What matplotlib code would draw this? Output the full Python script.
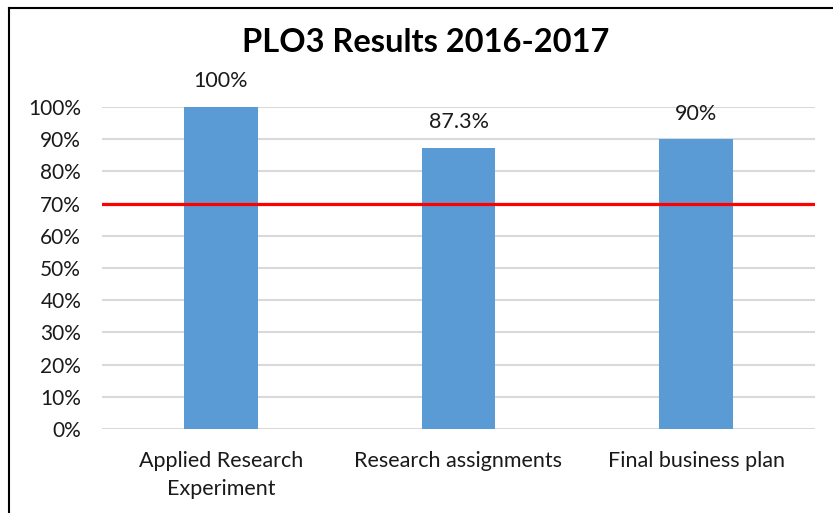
import matplotlib.pyplot as plt
from matplotlib.lines import Line2D

categories = ["Applied Research\nExperiment", "Research assignments", "Final business plan"]
values = [1.00, 0.873, 0.90]
value_labels = ["100%", "87.3%", "90%"]
target = 0.70
yticks = [i / 10 for i in range(11)]
ytick_labels = [f"{i * 10}%" for i in range(11)]

plt.rcParams["font.family"] = ["Lato", "DejaVu Sans"]

fig = plt.figure(figsize=(8.33, 5.13), dpi=100)
ax = fig.add_axes([102 / 833, 1 - 429 / 513, 713 / 833, 322 / 513])

x = range(len(categories))
ax.bar(x, values, width=0.31, color="#5B9BD5", zorder=2)
ax.axhline(target, color="#FF0000", linewidth=2.3, zorder=3)

for xi, v, lab in zip(x, values, value_labels):
    ax.annotate(lab, (xi, v), xytext=(0, 18.5), textcoords="offset points",
                ha="center", va="center", fontsize=15.5, color="#1a1a1a")

ax.set_xlim(-0.5, 2.5)
ax.set_ylim(0, 1)
ax.set_yticks(yticks)
ax.set_yticklabels(ytick_labels)
ax.set_xticks(list(x))
ax.set_xticklabels(categories, linespacing=1.5)
ax.tick_params(axis="y", length=0, pad=15, labelsize=15, labelcolor="#1a1a1a")
ax.tick_params(axis="x", length=0, pad=16, labelsize=15.5, labelcolor="#1a1a1a")
ax.grid(axis="y", color="#D9D9D9", linewidth=1.5, zorder=0)
for s in ax.spines.values():
    s.set_visible(False)

fig.text(426 / 833, 1 - 42 / 513, "PLO3 Results 2016-2017", ha="center", va="center",
         fontsize=23.5, fontweight="bold", color="#000000")

# chart border (left and top edges visible)
fig.add_artist(Line2D([9 / 833, 9 / 833], [0, 1 - 8 / 513], transform=fig.transFigure,
                      color="#000000", linewidth=1.5))
fig.add_artist(Line2D([9 / 833, 1], [1 - 8 / 513, 1 - 8 / 513], transform=fig.transFigure,
                      color="#000000", linewidth=1.5))

fig.savefig("out.png", dpi=100)
